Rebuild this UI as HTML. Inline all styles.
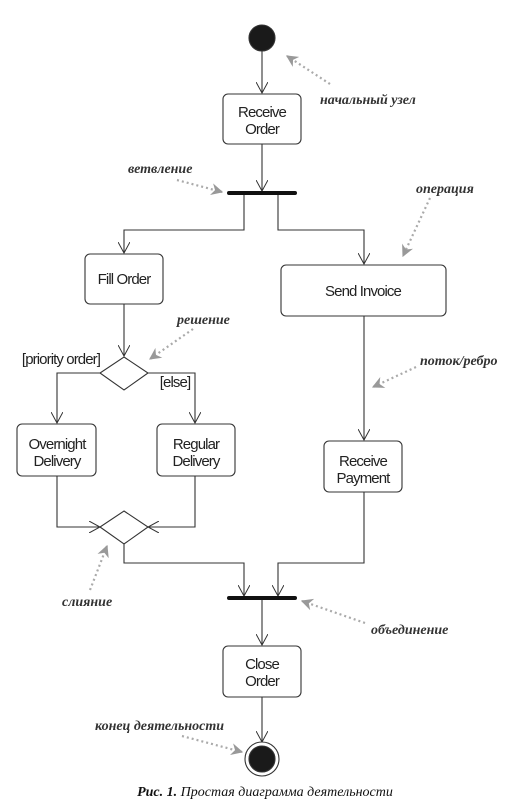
<!DOCTYPE html>
<html><head><meta charset="utf-8"><style>
html,body{margin:0;padding:0;background:#fff;}
svg{display:block}
.t{font-family:"Liberation Sans",sans-serif;font-size:15px;fill:#222;text-anchor:middle;letter-spacing:-0.9px}
.a{font-family:"Liberation Serif","DejaVu Serif",serif;font-style:italic;font-weight:bold;font-size:14px;fill:#333}
</style></head><body>
<svg width="529" height="804" viewBox="0 0 529 804" xmlns="http://www.w3.org/2000/svg">
<defs>
<marker id="v" viewBox="0 0 12 12" refX="11" refY="6" markerWidth="12" markerHeight="12" markerUnits="userSpaceOnUse" orient="auto">
<path d="M0,0 L11,6 L0,12" fill="none" stroke="#333" stroke-width="1"/></marker>
<marker id="g" viewBox="0 0 10 10" refX="9" refY="5" markerWidth="12" markerHeight="12" markerUnits="userSpaceOnUse" orient="auto">
<path d="M0,0 L10,5 L0,10 L3,5 Z" fill="#999"/></marker>
</defs>
<g fill="none" stroke="#333" stroke-width="1.1">
<circle cx="262" cy="38" r="13" fill="#1a1a1a"/>
<line x1="262" y1="51" x2="262" y2="93" marker-end="url(#v)"/>
<rect x="223" y="94" width="78" height="50" rx="5" fill="#fff"/>
<line x1="262" y1="144" x2="262" y2="191" marker-end="url(#v)"/>
<polyline points="244,195 244,230 124,230 124,253" marker-end="url(#v)"/>
<polyline points="278,195 278,230 364,230 364,264" marker-end="url(#v)"/>
<rect x="85" y="254" width="78" height="50" rx="5" fill="#fff"/>
<rect x="281" y="265" width="165" height="51" rx="5" fill="#fff"/>
<line x1="124" y1="304" x2="124" y2="356" marker-end="url(#v)"/>
<polygon points="124,357 148,373 124,390 100,373" fill="#fff"/>
<polyline points="100,373 57,373 57,423" marker-end="url(#v)"/>
<polyline points="148,373 195,373 195,423" marker-end="url(#v)"/>
<rect x="17" y="424" width="79" height="52" rx="5" fill="#fff"/>
<rect x="157" y="424" width="78" height="52" rx="5" fill="#fff"/>
<line x1="364" y1="316" x2="364" y2="440" marker-end="url(#v)"/>
<rect x="324" y="441" width="78" height="51" rx="5" fill="#fff"/>
<polygon points="124,511 148,527 124,544 100,527" fill="#fff"/>
<polyline points="57,476 57,527 100,527" marker-end="url(#v)"/>
<polyline points="195,476 195,527 148,527" marker-end="url(#v)"/>
<polyline points="124,544 124,563 244,563 244,596" marker-end="url(#v)"/>
<polyline points="364,492 364,563 278,563 278,596" marker-end="url(#v)"/>
<line x1="262" y1="600" x2="262" y2="645" marker-end="url(#v)"/>
<rect x="223" y="646" width="78" height="51" rx="5" fill="#fff"/>
<line x1="262" y1="697" x2="262" y2="742" marker-end="url(#v)"/>
<circle cx="262" cy="759" r="17" fill="#fff"/>
<circle cx="262" cy="759" r="13" fill="#1a1a1a"/>
</g>
<line x1="229" y1="193" x2="295" y2="193" stroke="#111" stroke-width="4" stroke-linecap="round"/>
<line x1="229" y1="598" x2="295" y2="598" stroke="#111" stroke-width="4" stroke-linecap="round"/>
<g class="t">
<text x="262" y="117">Receive</text><text x="262" y="134">Order</text>
<text x="124" y="284">Fill Order</text>
<text x="363" y="296">Send Invoice</text>
<text x="57" y="449">Overnight</text><text x="57" y="466">Delivery</text>
<text x="196" y="449">Regular</text><text x="196" y="466">Delivery</text>
<text x="363" y="466">Receive</text><text x="363" y="483">Payment</text>
<text x="262" y="669">Close</text><text x="262" y="686">Order</text>
<text x="61" y="364">[priority order]</text>
<text x="175" y="387">[else]</text>
</g>
<g stroke="#aaa" stroke-width="2.2" stroke-dasharray="2,3" fill="none">
<line x1="330" y1="84" x2="287" y2="56" marker-end="url(#g)"/>
<line x1="177" y1="180" x2="222" y2="192" marker-end="url(#g)"/>
<line x1="430" y1="198" x2="403" y2="256" marker-end="url(#g)"/>
<line x1="193" y1="329" x2="150" y2="359" marker-end="url(#g)"/>
<line x1="416" y1="367" x2="373" y2="387" marker-end="url(#g)"/>
<line x1="90" y1="590" x2="107" y2="546" marker-end="url(#g)"/>
<line x1="365" y1="623" x2="302" y2="601" marker-end="url(#g)"/>
<line x1="182" y1="736" x2="242" y2="752" marker-end="url(#g)"/>
</g>
<g class="a">
<text x="320" y="104">начальный узел</text>
<text x="128" y="173">ветвление</text>
<text x="416" y="193">операция</text>
<text x="177" y="324">решение</text>
<text x="420" y="365">поток/ребро</text>
<text x="62" y="606">слияние</text>
<text x="371" y="634">объединение</text>
<text x="95" y="730">конец деятельности</text>
</g>
<text x="265" y="796" font-family="Liberation Serif,serif" font-style="italic" font-size="14" fill="#111" text-anchor="middle"><tspan font-weight="bold">Рис. 1.</tspan> Простая диаграмма деятельности</text>
</svg>
</body></html>
